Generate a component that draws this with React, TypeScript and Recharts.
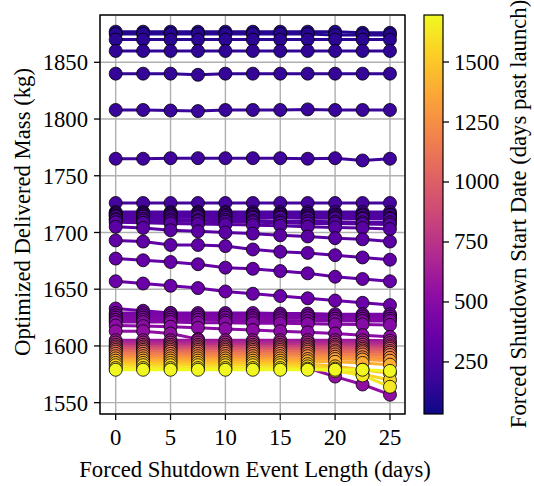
import { LineChart, Line, XAxis, YAxis, CartesianGrid } from "recharts";

// forced shutdown event length (days)
const eventLengths = [0, 2.5, 5, 7.5, 10, 12.5, 15, 17.5, 20, 22.5, 25];

// forced shutdown start date (days past launch), one per line
const startDates = [
  100, 115, 130, 145, 160, 175, 195, 215,
  235, 245, 255, 262, 270, 278, 286, 294,
  305, 325, 345, 370,
  410, 425, 440, 455, 470, 490, 510, 540,
  600, 680, 760, 840, 920, 1000, 1080, 1160, 1240, 1320, 1400, 1480, 1560, 1630, 1690,
];

// optimized delivered mass (kg), one row per start date
const deliveredMass = [
  [1877, 1877, 1877, 1877, 1877, 1877, 1877, 1877, 1877, 1876, 1876],
  [1875, 1875, 1875, 1875, 1875, 1875, 1875, 1875, 1874, 1874, 1874],
  [1870, 1870, 1870, 1870, 1870, 1870, 1870, 1870, 1870, 1870, 1870],
  [1860, 1860, 1860, 1860, 1860, 1860, 1860, 1860, 1860, 1860, 1860],
  [1840, 1840, 1840, 1839, 1840, 1840, 1840, 1840, 1840, 1840, 1840],
  [1808, 1808, 1807.5, 1807, 1808, 1808, 1808, 1808.5, 1808, 1808, 1808],
  [1765, 1765, 1765.5, 1765.5, 1765.5, 1765.5, 1765.5, 1765, 1765.5, 1763.5, 1765],
  [1726, 1726, 1726, 1726, 1726, 1726, 1726, 1726, 1726, 1726, 1726],
  [1718, 1718, 1718, 1718, 1718, 1718, 1718, 1718, 1718, 1718, 1718],
  [1717, 1717, 1717, 1717, 1717, 1716.5, 1716.5, 1716.5, 1716, 1716, 1716],
  [1716, 1716, 1716, 1716, 1715.5, 1715.5, 1715.5, 1715, 1715, 1715, 1715],
  [1715, 1715, 1715, 1714.5, 1714.5, 1714, 1714, 1713.5, 1713.5, 1713, 1713],
  [1714, 1714, 1713.5, 1713.5, 1713, 1713, 1713, 1712.5, 1712.5, 1712, 1712],
  [1712, 1712, 1711.5, 1711, 1711, 1710.5, 1710, 1710, 1709.5, 1709, 1709],
  [1711, 1710.5, 1710, 1710, 1709.5, 1709, 1708.5, 1708, 1708, 1707.5, 1707],
  [1709, 1708.5, 1708, 1707.5, 1707, 1706.5, 1706, 1705, 1704.5, 1704, 1703],
  [1705, 1704, 1702, 1701, 1700, 1699, 1697.5, 1696.5, 1695, 1694, 1692],
  [1693, 1692, 1689, 1689, 1688, 1685, 1683, 1682, 1680, 1678, 1676],
  [1677, 1675.5, 1674, 1672, 1669, 1668, 1666, 1664, 1661, 1659, 1657],
  [1657, 1655, 1653, 1651, 1648, 1646, 1644, 1642, 1640, 1638, 1636],
  [1633, 1631, 1629, 1628, 1628, 1628, 1627, 1627, 1627, 1627, 1626],
  [1629, 1629, 1629, 1629, 1629, 1629, 1628.5, 1628.5, 1628, 1628, 1628],
  [1627, 1627, 1627, 1627, 1627, 1626.5, 1626.5, 1626.5, 1626, 1626, 1626],
  [1625, 1625, 1625, 1625, 1625, 1624.5, 1624.5, 1624.5, 1624, 1624, 1624],
  [1623, 1623, 1623, 1623, 1622.5, 1622.5, 1622.5, 1622, 1622, 1622, 1622],
  [1621, 1621, 1621, 1620.5, 1620.5, 1620, 1620, 1619.5, 1619, 1619, 1618.5],
  [1618, 1617.5, 1617, 1616, 1615, 1614, 1613, 1612, 1611, 1609.5, 1608],
  [1613, 1613, 1611, 1606, 1600, 1594, 1587, 1580.5, 1573, 1566, 1557],
  [1605, 1605, 1605, 1605, 1605, 1605, 1605, 1605, 1605, 1605, 1604.5],
  [1603, 1603, 1603, 1603, 1603, 1603, 1603, 1603, 1603, 1603, 1602.5],
  [1601, 1601, 1601, 1601, 1601, 1601, 1601, 1601, 1601, 1601, 1600.5],
  [1599.5, 1599.5, 1599.5, 1599.5, 1599.5, 1599.5, 1599.5, 1599.5, 1599.5, 1599, 1599],
  [1598, 1598, 1598, 1598, 1598, 1598, 1598, 1598, 1598, 1597.5, 1597.5],
  [1596.5, 1596.5, 1596.5, 1596.5, 1596.5, 1596.5, 1596.5, 1596.5, 1596, 1596, 1595.5],
  [1595, 1595, 1595, 1595, 1595, 1595, 1595, 1595, 1594.5, 1594.5, 1594],
  [1593, 1593, 1593, 1593, 1593, 1593, 1593, 1593, 1592.5, 1592.5, 1592],
  [1591, 1591, 1591, 1591, 1591, 1591, 1591, 1591, 1590.5, 1590, 1589.5],
  [1589, 1589, 1589, 1589, 1589, 1589, 1589, 1588.5, 1588.5, 1588, 1587],
  [1587, 1587, 1587, 1587, 1587, 1587, 1587, 1586.5, 1586, 1585, 1583.5],
  [1585, 1585, 1585, 1585, 1585, 1585, 1585, 1584, 1582, 1579, 1576],
  [1583, 1583, 1583, 1583, 1583, 1583, 1583, 1582, 1580, 1575, 1570],
  [1580.5, 1580.5, 1580.5, 1580.5, 1580.5, 1580.5, 1580.5, 1580, 1578, 1574, 1564],
  [1579, 1579, 1579, 1579, 1579, 1579, 1579, 1579, 1579, 1579, 1578],
];

const yTicks = [1550, 1600, 1650, 1700, 1750, 1800, 1850];
const xTicks = [0, 5, 10, 15, 20, 25];
const colorbarTicks = [250, 500, 750, 1000, 1250, 1500];
const colorMin = 33;
const colorMax = 1696;

const plasmaStops = [
  "#0d0887", "#41049d", "#6a00a8", "#8f0da4", "#b12a90", "#cc4778",
  "#e16462", "#f2844b", "#fca636", "#fcce25", "#f0f921",
];

function hexToRgb(h: string) {
  return [1, 3, 5].map((i) => parseInt(h.slice(i, i + 2), 16));
}

function plasma(t: number) {
  const c = Math.max(0, Math.min(1, t)) * (plasmaStops.length - 1);
  const i = Math.min(Math.floor(c), plasmaStops.length - 2);
  const f = c - i;
  const a = hexToRgb(plasmaStops[i]);
  const b = hexToRgb(plasmaStops[i + 1]);
  const m = a.map((v, k) => Math.round(v + (b[k] - v) * f));
  return `rgb(${m[0]},${m[1]},${m[2]})`;
}

const colorOf = (s: number) => plasma((s - colorMin) / (colorMax - colorMin));

const chartData = eventLengths.map((x, i) => {
  const row: Record<string, number> = { x };
  deliveredMass.forEach((series, j) => {
    row[`s${j}`] = series[i];
  });
  return row;
});

const font = "'Liberation Serif', 'Times New Roman', serif";
const fs = 22.7;

// plot box in page pixels
const plot = { left: 100, top: 15, width: 305, height: 399 };
const bar = { left: 424, top: 15, width: 19, height: 399 };

export default function App() {
  const tickStyle = { fontSize: fs, fill: "#000", fontFamily: font };
  return (
    <div style={{ position: "absolute", left: 0, top: 0, width: 534, height: 486, background: "#fff" }}>
      <LineChart
        width={534}
        height={486}
        data={chartData}
        margin={{ top: plot.top, right: 534 - plot.left - plot.width, bottom: 22, left: 0 }}
      >
        <CartesianGrid stroke="#b0b0b0" strokeWidth={1.4} />
        <XAxis
          dataKey="x"
          type="number"
          domain={[-1.43, 26.37]}
          ticks={xTicks}
          allowDataOverflow
          height={50}
          tick={tickStyle}
          tickSize={6}
          tickMargin={9}
          tickLine={{ stroke: "#000", strokeWidth: 1.3 }}
          axisLine={false}
        />
        <YAxis
          type="number"
          domain={[1540, 1891.7]}
          ticks={yTicks}
          allowDataOverflow
          width={100}
          tick={tickStyle}
          tickSize={6}
          tickMargin={6}
          tickLine={{ stroke: "#000", strokeWidth: 1.3 }}
          axisLine={false}
        />
        {startDates.map((s, j) => (
          <Line
            key={j}
            dataKey={`s${j}`}
            type="linear"
            stroke={colorOf(s)}
            strokeWidth={3}
            dot={{ r: 6.5, fill: colorOf(s), stroke: "#000", strokeWidth: 0.8 }}
            activeDot={false}
            isAnimationActive={false}
          />
        ))}
      </LineChart>
      <svg
        width={534}
        height={486}
        style={{ position: "absolute", left: 0, top: 0, pointerEvents: "none" }}
        fontFamily={font}
        fontSize={fs}
      >
        <defs>
          <linearGradient id="plasmaBar" x1="0" y1="1" x2="0" y2="0">
            {plasmaStops.map((c, i) => (
              <stop key={i} offset={i / (plasmaStops.length - 1)} stopColor={c} />
            ))}
          </linearGradient>
        </defs>
        <rect x={plot.left} y={plot.top} width={plot.width} height={plot.height} fill="none" stroke="#000" strokeWidth={1.4} />
        <text x={22} y={212} textAnchor="middle" dominantBaseline="central" transform="rotate(-90 22 212)">
          Optimized Delivered Mass (kg)
        </text>
        <text x={255} y={477} textAnchor="middle">
          Forced Shutdown Event Length (days)
        </text>
        <rect x={bar.left} y={bar.top} width={bar.width} height={bar.height} fill="url(#plasmaBar)" stroke="#000" strokeWidth={1.2} />
        {colorbarTicks.map((v) => {
          const y = bar.top + bar.height - ((v - colorMin) / (colorMax - colorMin)) * bar.height;
          return (
            <g key={v}>
              <line x1={bar.left + bar.width} x2={bar.left + bar.width + 6} y1={y} y2={y} stroke="#000" strokeWidth={1.3} />
              <text x={bar.left + bar.width + 11} y={y} dominantBaseline="central">
                {v}
              </text>
            </g>
          );
        })}
        <text x={518} y={214} textAnchor="middle" dominantBaseline="central" transform="rotate(-90 518 214)">
          Forced Shutdown Start Date (days past launch)
        </text>
      </svg>
    </div>
  );
}
